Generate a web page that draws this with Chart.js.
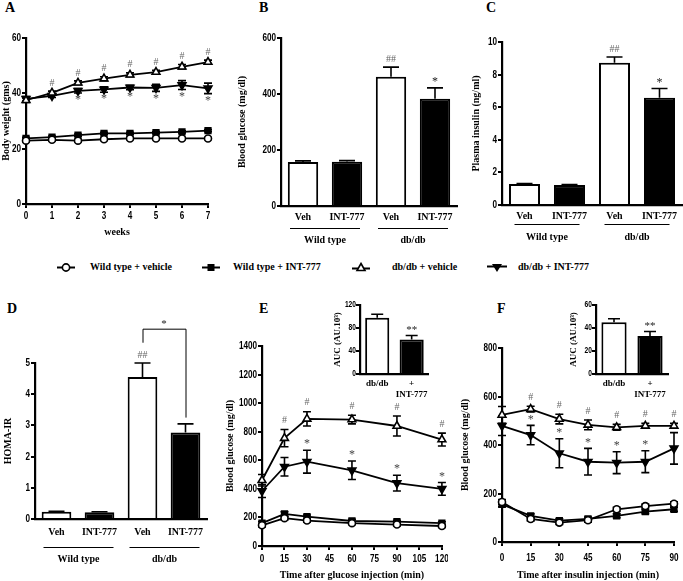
<!DOCTYPE html>
<html>
<head>
<meta charset="utf-8">
<script src="https://cdn.jsdelivr.net/npm/chart.js@4.4.1/dist/chart.umd.min.js"></script>
<style>
  html, body { margin: 0; padding: 0; background: #fff; }
  #fig { position: relative; width: 683px; height: 581px; overflow: hidden; background: #fff; }
  #fig canvas { position: absolute; }
  .letter { position: absolute; font: bold 14px "Liberation Serif", "Times New Roman", serif; color: #000; line-height: 14px; }
  .legMark { position: absolute; top: 262px; }
  .legText { position: absolute; top: 261px; font: bold 10px "Liberation Serif", "Times New Roman", serif; line-height: 12px; white-space: nowrap; color: #000; }
</style>
</head>
<body>
<div id="fig">
  <div class="letter" style="left:5px;top:1px">A</div>
  <div class="letter" style="left:259px;top:1px">B</div>
  <div class="letter" style="left:486px;top:1px">C</div>
  <div class="letter" style="left:7px;top:302px">D</div>
  <div class="letter" style="left:259px;top:302px">E</div>
  <div class="letter" style="left:497px;top:302px">F</div>

  <svg class="legMark" style="left:57px" width="18" height="11"><line x1="0" y1="5.5" x2="18" y2="5.5" stroke="#000" stroke-width="2"/><circle cx="9" cy="5.5" r="3.6" fill="#fff" stroke="#000" stroke-width="1.6"/></svg>
  <span class="legText" style="left:90px">Wild type + vehicle</span>
  <svg class="legMark" style="left:202px" width="18" height="11"><line x1="0" y1="5.5" x2="18" y2="5.5" stroke="#000" stroke-width="2"/><rect x="5.5" y="2" width="7" height="7" fill="#000"/></svg>
  <span class="legText" style="left:233px">Wild type + INT-777</span>
  <svg class="legMark" style="left:352px" width="18" height="11"><line x1="0" y1="6.5" x2="18" y2="6.5" stroke="#000" stroke-width="2"/><polygon points="9,1.5 13,8.5 5,8.5" fill="#fff" stroke="#000" stroke-width="1.6"/></svg>
  <span class="legText" style="left:392px">db/db + vehicle</span>
  <svg class="legMark" style="left:487px" width="20" height="11"><line x1="0" y1="4.5" x2="20" y2="4.5" stroke="#000" stroke-width="2"/><polygon points="5,2 15,2 10,10" fill="#000"/></svg>
  <span class="legText" style="left:518px">db/db + INT-777</span>

  <canvas id="chartA" width="216" height="242" style="left:0;top:0"></canvas>
  <canvas id="chartB" width="225" height="250" style="left:234px;top:0"></canvas>
  <canvas id="chartC" width="215" height="250" style="left:468px;top:0"></canvas>
  <canvas id="chartD" width="215" height="280" style="left:0;top:290px"></canvas>
  <canvas id="chartE" width="226" height="291" style="left:222px;top:290px"></canvas>
  <canvas id="chartF" width="224" height="291" style="left:457px;top:290px"></canvas>
  <canvas id="chartEin" width="106" height="110" style="left:326px;top:292px"></canvas>
  <canvas id="chartFin" width="110" height="110" style="left:562px;top:292px"></canvas>
</div>

<script>
// ===============================
// DATA
// ===============================
const weeks = [0, 1, 2, 3, 4, 5, 6, 7];
const weightWtVeh = [22.9, 23.2, 22.9, 23.4, 23.7, 23.7, 23.7, 23.7];
const weightWtInt = [23.7, 24.2, 24.9, 25.5, 25.5, 25.8, 26.1, 26.5];
const weightDbVeh = [37.5, 40.2, 43.8, 45.3, 46.7, 47.7, 49.6, 51.3];
const weightDbInt = [38.0, 39.1, 40.9, 41.4, 42.1, 42.0, 43.0, 41.8];
const weightWtVehErr = [0.4, 0.4, 0.4, 0.4, 0.4, 0.4, 0.4, 0.4];
const weightWtIntErr = [0.4, 0.4, 0.4, 0.4, 0.4, 0.4, 0.4, 0.4];
const weightDbVehErr = [0.8, 0.6, 0.7, 0.7, 0.7, 0.6, 0.8, 0.7];
const weightDbIntErr = [0.8, 0.6, 0.8, 1.0, 0.8, 1.3, 1.6, 1.9];

const barLabels = ["Veh", "INT-777", "Veh", "INT-777"];
const groupNames = ["Wild type", "db/db"];
const barFills = ["#fff", "#000", "#fff", "#000"];

const glucoseBars = [157, 158, 462, 383];
const glucoseErr  = [4, 4, 34, 39];
const insulinBars = [1.29, 1.22, 8.72, 6.58];
const insulinErr  = [0.03, 0.04, 0.36, 0.57];
const homaBars    = [0.23, 0.22, 4.55, 2.77];
const homaErr     = [0.02, 0.01, 0.45, 0.28];

const gttTimes = [0, 15, 30, 60, 90, 120];
const gttWtVeh = [145, 195, 178, 160, 150, 140];
const gttWtInt = [160, 225, 205, 175, 170, 160];
const gttDbVeh = [460, 755, 890, 885, 840, 745];
const gttDbInt = [385, 555, 590, 530, 440, 400];
const gttWtVehErr = [12, 12, 12, 10, 10, 10];
const gttWtIntErr = [12, 15, 12, 12, 10, 10];
const gttDbVehErr = [40, 60, 50, 30, 70, 45];
const gttDbIntErr = [45, 65, 80, 65, 55, 45];

const aucLabels = ["db/db", ["+", "INT-777"]];
const gttAuc    = [98, 60];
const gttAucErr = [6, 7];

const ittTimes = [0, 15, 30, 45, 60, 75, 90];
const ittWtVeh = [165, 95, 80, 90, 135, 148, 158];
const ittWtInt = [155, 108, 88, 95, 108, 125, 135];
const ittDbVeh = [524, 548, 507, 483, 473, 479, 479];
const ittDbInt = [479, 441, 366, 331, 327, 331, 386];
const ittWtVehErr = [10, 8, 8, 8, 8, 8, 8];
const ittWtIntErr = [10, 8, 8, 8, 8, 8, 8];
const ittDbVehErr = [35, 12, 20, 20, 12, 10, 10];
const ittDbIntErr = [40, 40, 60, 55, 45, 45, 65];

const ittAuc    = [45, 33];
const ittAucErr = [3, 4];

// ===============================
// STYLE HELPERS
// ===============================
const SERIF = '"Liberation Serif", "Times New Roman", serif';
const SANS  = '"Liberation Sans", Arial, sans-serif';

Chart.defaults.color = "#000";
Chart.defaults.animation = false;

function valueOf(d) {
  return (d !== null && typeof d === "object") ? d.y : d;
}

// numeric tick labels are drawn by narrowTicks (condensed look), so Chart.js' own are off
function yAxis(min, max, step, title, width, titlePad, labelGap, size) {
  return {
    min, max,
    ticks: { stepSize: step, display: false },
    narrow: { offset: labelGap, size: size || 11 },
    grid: { display: true, drawOnChartArea: false, color: "#000", lineWidth: 2, tickLength: 4 },
    border: { color: "#000", width: 2.2 },
    title: { display: true, text: title, color: "#000", padding: { top: titlePad, bottom: 0 },
             font: { family: SERIF, size: size ? 9 : 10, weight: "bold" } },
    afterFit: s => { s.width = width; }
  };
}

function xLinear(max, step, title, height, labelGap, titlePad) {
  return {
    type: "linear", min: 0, max,
    ticks: { stepSize: step, display: false },
    narrow: { offset: labelGap, size: 11 },
    grid: { display: true, drawOnChartArea: false, color: "#000", lineWidth: 2, tickLength: 4 },
    border: { color: "#000", width: 2.2 },
    title: { display: true, text: title, color: "#000", padding: { top: 0, bottom: titlePad },
             font: { family: SERIF, size: 10, weight: "bold" } },
    afterFit: s => { s.height = height; }
  };
}

function xCategory(height, tickPad, size) {
  return {
    type: "category",
    ticks: { color: "#000", padding: tickPad, autoSkip: false, maxRotation: 0, minRotation: 0,
             font: { family: SERIF, size: size || 10, weight: "bold", lineHeight: 1.2 } },
    grid: { display: false, drawTicks: false },
    border: { color: "#000", width: 2.2 },
    afterFit: s => { s.height = height; }
  };
}

function series(xs, ys, errs, style, fill, radius, rot) {
  return {
    data: xs.map((x, i) => ({ x, y: ys[i] })),
    errors: errs,
    capWidth: 4,
    borderColor: "#000", borderWidth: 1.8, tension: 0, clip: false,
    pointStyle: style, pointRotation: rot || 0, pointRadius: radius,
    pointBorderWidth: 1.6, pointBackgroundColor: fill, pointBorderColor: "#000"
  };
}

function bars(values, errs, fills, pct, cap) {
  return {
    data: values, errors: errs, errorUp: true, capWidth: cap,
    backgroundColor: fills, borderColor: "#000", borderWidth: 2,
    barPercentage: pct, categoryPercentage: 1, borderSkipped: "bottom"
  };
}

// ===============================
// PLUGINS
// ===============================
const narrowTicks = {
  id: "narrowTicks",
  afterDraw(chart) {
    const ctx = chart.ctx;
    Object.values(chart.scales).forEach(s => {
      const o = s.options.narrow;
      if (!o) return;
      ctx.save();
      ctx.fillStyle = "#000";
      ctx.font = "bold " + o.size + "px " + SANS;
      s.ticks.forEach(t => {
        const p = s.getPixelForValue(t.value);
        ctx.save();
        if (s.isHorizontal()) {
          ctx.translate(p, s.top + o.offset);
          ctx.textAlign = "center";
          ctx.textBaseline = "top";
        } else {
          ctx.translate(s.right - o.offset, p);
          ctx.textAlign = "right";
          ctx.textBaseline = "middle";
        }
        ctx.scale(0.74, 1);
        ctx.fillText(String(t.value), 0, 0);
        ctx.restore();
      });
      ctx.restore();
    });
  }
};

const errorBars = {
  id: "errorBars",
  beforeDatasetsDraw(chart) {
    const ctx = chart.ctx, ys = chart.scales.y;
    chart.data.datasets.forEach((ds, i) => {
      if (!ds.errors) return;
      const meta = chart.getDatasetMeta(i);
      meta.data.forEach((el, j) => {
        const err = ds.errors[j];
        if (!err) return;
        const v = valueOf(ds.data[j]);
        const top = ys.getPixelForValue(v + err);
        const bot = ds.errorUp ? el.y : ys.getPixelForValue(v - err);
        const w = ds.capWidth;
        ctx.save();
        ctx.strokeStyle = "#000";
        ctx.lineWidth = 1.6;
        ctx.beginPath();
        ctx.moveTo(el.x, top); ctx.lineTo(el.x, bot);
        ctx.moveTo(el.x - w, top); ctx.lineTo(el.x + w, top);
        if (!ds.errorUp) { ctx.moveTo(el.x - w, bot); ctx.lineTo(el.x + w, bot); }
        ctx.stroke();
        ctx.restore();
      });
    });
  }
};

const starMarks = {
  id: "starMarks",
  afterDatasetsDraw(chart, args, opts) {
    const ctx = chart.ctx, ys = chart.scales.y;
    (opts.items || []).forEach(m => {
      const ds = chart.data.datasets[m.ds];
      const meta = chart.getDatasetMeta(m.ds);
      m.idx.forEach(i => {
        const el = meta.data[i];
        const v = valueOf(ds.data[i]);
        const e = ds.errors ? ds.errors[i] : 0;
        const y = m.below ? ys.getPixelForValue(v - e) + m.gap : ys.getPixelForValue(v + e) - m.gap;
        ctx.save();
        ctx.fillStyle = m.color;
        ctx.font = m.font;
        ctx.textAlign = "center";
        ctx.textBaseline = "middle";
        ctx.fillText(m.text, el.x, y);
        ctx.restore();
      });
    });
  }
};

const groupLines = {
  id: "groupLines",
  afterDraw(chart, args, opts) {
    if (!opts.items) return;
    const ctx = chart.ctx, xs = chart.scales.x, b = chart.chartArea.bottom;
    ctx.save();
    ctx.strokeStyle = "#000";
    ctx.lineWidth = 1;
    ctx.fillStyle = "#000";
    ctx.font = "bold 10px " + SERIF;
    ctx.textAlign = "center";
    ctx.textBaseline = "middle";
    opts.items.forEach(g => {
      const x0 = xs.getPixelForValue(g.from) - opts.left;
      const x1 = xs.getPixelForValue(g.to) + opts.right;
      ctx.beginPath();
      ctx.moveTo(x0, b + opts.lineY + 0.5);
      ctx.lineTo(x1, b + opts.lineY + 0.5);
      ctx.stroke();
      ctx.fillText(g.text, (x0 + x1) / 2, b + opts.textY);
    });
    ctx.restore();
  }
};

const bracket = {
  id: "bracket",
  afterDraw(chart, args, opts) {
    if (!opts.text) return;
    const ctx = chart.ctx, xs = chart.scales.x, ys = chart.scales.y;
    const x0 = xs.getPixelForValue(opts.from), x1 = xs.getPixelForValue(opts.to);
    const top = ys.getPixelForValue(opts.top);
    ctx.save();
    ctx.strokeStyle = "#000";
    ctx.lineWidth = 1;
    ctx.beginPath();
    ctx.moveTo(x0 + 0.5, ys.getPixelForValue(opts.left));
    ctx.lineTo(x0 + 0.5, top + 0.5);
    ctx.lineTo(x1 + 0.5, top + 0.5);
    ctx.lineTo(x1 + 0.5, ys.getPixelForValue(opts.right));
    ctx.stroke();
    ctx.fillStyle = "#222";
    ctx.font = "11px " + SERIF;
    ctx.textAlign = "center";
    ctx.textBaseline = "middle";
    ctx.fillText(opts.text, (x0 + x1) / 2, top - 5);
    ctx.restore();
  }
};

const HASH = "10px " + SERIF;
const STAR = "12px " + SERIF;
const groupItems = [
  { from: 0, to: 1, text: groupNames[0] },
  { from: 2, to: 3, text: groupNames[1] }
];

function baseOptions(padding) {
  return {
    responsive: false,
    animation: false,
    layout: { padding },
    plugins: { legend: { display: false }, tooltip: { enabled: false } }
  };
}

// ===============================
// A: BODY WEIGHT
// ===============================
const optA = baseOptions({ top: 38, right: 8, left: 0, bottom: 0 });
optA.scales = {
  x: xLinear(7, 1, "weeks", 38, 6, 4),
  y: yAxis(0, 60, 20, "Body weight (gms)", 26, 0, 5)
};
optA.plugins.starMarks = { items: [
  { ds: 2, idx: [1, 2, 3, 4, 5, 6, 7], text: "#", below: false, gap: 8, color: "#666", font: HASH },
  { ds: 3, idx: [2, 3, 4, 5, 6, 7], text: "*", below: true, gap: 7, color: "#444", font: STAR }
] };
new Chart(document.getElementById("chartA"), {
  type: "line",
  data: { datasets: [
    series(weeks, weightWtVeh, weightWtVehErr, "circle", "#fff", 3.5),
    series(weeks, weightWtInt, weightWtIntErr, "rect", "#000", 4),
    series(weeks, weightDbVeh, weightDbVehErr, "triangle", "#fff", 4.5),
    series(weeks, weightDbInt, weightDbIntErr, "triangle", "#000", 4.5, 180)
  ] },
  options: optA,
  plugins: [errorBars, starMarks, narrowTicks]
});

// ===============================
// B, C, D: BAR PANELS
// ===============================
function barPanel(id, values, errs, padding, yMax, yStep, yTitle, yWidth, xHeight, tickPad, groups, extra) {
  const opt = baseOptions(padding);
  opt.scales = {
    x: xCategory(xHeight, tickPad),
    y: yAxis(0, yMax, yStep, yTitle, yWidth, 2, 5)
  };
  opt.plugins.starMarks = { items: [
    { ds: 0, idx: [2], text: "##", below: false, gap: 8, color: "#666", font: HASH },
    ...(extra ? [] : [{ ds: 0, idx: [3], text: "*", below: false, gap: 6, color: "#222", font: STAR }])
  ] };
  opt.plugins.groupLines = Object.assign({ items: groupItems }, groups);
  if (extra) opt.plugins.bracket = extra;
  return new Chart(document.getElementById(id), {
    type: "bar",
    data: { labels: barLabels, datasets: [bars(values, errs, barFills, 0.69, 8)] },
    options: opt,
    plugins: [errorBars, starMarks, groupLines, bracket, narrowTicks]
  });
}

barPanel("chartB", glucoseBars, glucoseErr, { top: 38, right: 2, left: 0, bottom: 0 },
  600, 200, "Blood glucose (mg/dl)", 47, 44, 5,
  { lineY: 22, textY: 34, left: 13, right: 13 });

barPanel("chartC", insulinBars, insulinErr, { top: 42, right: 1, left: 0, bottom: 0 },
  10, 2, "Plasma insulin (ng/ml)", 34, 45, 5,
  { lineY: 19, textY: 32, left: 10, right: 10 });

barPanel("chartD", homaBars, homaErr, { top: 73, right: 8, left: 0, bottom: 0 },
  5, 1, "HOMA-IR", 35, 51, 7,
  { lineY: 28, textY: 40, left: 13, right: 14 },
  { from: 2, to: 3, top: 6.1, left: 5.65, right: 3.25, text: "*" });

// ===============================
// E: GLUCOSE TOLERANCE
// ===============================
const optE = baseOptions({ top: 56, right: 6, left: 0, bottom: 0 });
optE.scales = {
  x: xLinear(120, 15, "Time after glucose injection (min)", 35, 7, 0),
  y: yAxis(0, 1400, 200, "Blood glucose (mg/dl)", 40, 2, 5)
};
optE.plugins.starMarks = { items: [
  { ds: 2, idx: [1, 2, 3, 4, 5], text: "#", below: false, gap: 9, color: "#666", font: HASH },
  { ds: 3, idx: [2, 3, 4, 5], text: "*", below: false, gap: 6, color: "#444", font: STAR }
] };
new Chart(document.getElementById("chartE"), {
  type: "line",
  data: { datasets: [
    series(gttTimes, gttWtVeh, gttWtVehErr, "circle", "#fff", 3.5),
    series(gttTimes, gttWtInt, gttWtIntErr, "rect", "#000", 4),
    series(gttTimes, gttDbVeh, gttDbVehErr, "triangle", "#fff", 4.5),
    series(gttTimes, gttDbInt, gttDbIntErr, "triangle", "#000", 4.5, 180)
  ] },
  options: optE,
  plugins: [errorBars, starMarks, narrowTicks]
});

// ===============================
// F: INSULIN TOLERANCE
// ===============================
const optF = baseOptions({ top: 58, right: 7, left: 0, bottom: 0 });
optF.scales = {
  x: xLinear(90, 15, "Time after insulin injection (min)", 39, 10, 0),
  y: yAxis(0, 800, 200, "Blood glucose (mg/dl)", 45, 2, 5)
};
optF.plugins.starMarks = { items: [
  { ds: 2, idx: [1, 2, 3, 4, 5, 6], text: "#", below: false, gap: 9, color: "#666", font: HASH },
  { ds: 3, idx: [1, 2, 3, 4, 5], text: "*", below: false, gap: 6, color: "#444", font: STAR }
] };
new Chart(document.getElementById("chartF"), {
  type: "line",
  data: { datasets: [
    series(ittTimes, ittWtVeh, ittWtVehErr, "circle", "#fff", 3.5),
    series(ittTimes, ittWtInt, ittWtIntErr, "rect", "#000", 4),
    series(ittTimes, ittDbVeh, ittDbVehErr, "triangle", "#fff", 4.5),
    series(ittTimes, ittDbInt, ittDbIntErr, "triangle", "#000", 4.5, 180)
  ] },
  options: optF,
  plugins: [errorBars, starMarks, narrowTicks]
});

// ===============================
// AUC INSETS
// ===============================
function inset(id, values, errs, padding, yMax, yStep) {
  const opt = baseOptions(padding);
  opt.scales = {
    x: xCategory(28, 4, 9),
    y: yAxis(0, yMax, yStep, "AUC (AU.10\u00B3)", 34, 6, 4, 9)
  };
  opt.plugins.starMarks = { items: [
    { ds: 0, idx: [1], text: "**", below: false, gap: 5, color: "#222", font: "11px " + SERIF }
  ] };
  return new Chart(document.getElementById(id), {
    type: "bar",
    data: { labels: aucLabels, datasets: [bars(values, errs, ["#fff", "#000"], 0.7, 6)] },
    options: opt,
    plugins: [errorBars, starMarks, narrowTicks]
  });
}

inset("chartEin", gttAuc, gttAucErr, { top: 13, right: 2, left: 0, bottom: 0 }, 120, 40);
inset("chartFin", ittAuc, ittAucErr, { top: 13, right: 4, left: 0, bottom: 0 }, 60, 20);
</script>
</body>
</html>
